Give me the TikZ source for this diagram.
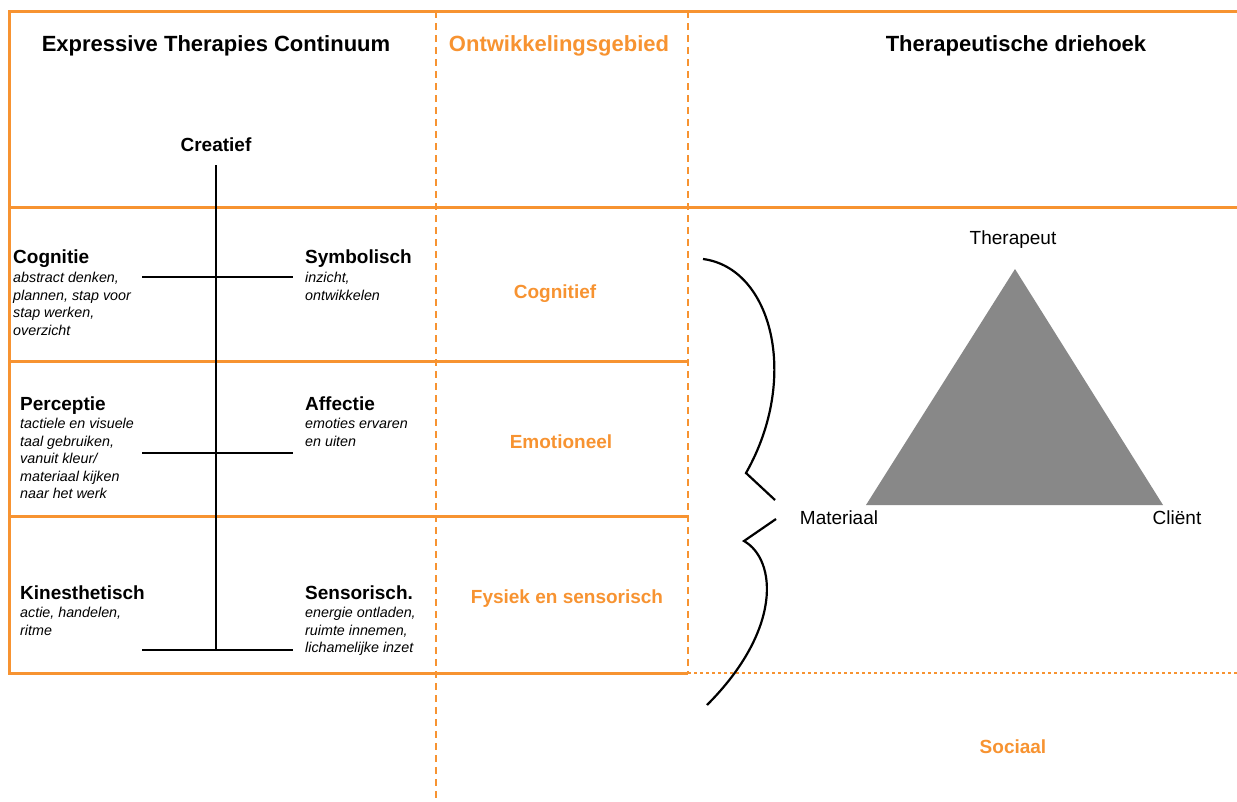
\documentclass[tikz,border=0pt]{standalone}
\usepackage{fontspec}
\setmainfont{Liberation Sans}
\definecolor{etcoranje}{RGB}{247,147,49}
\definecolor{driegrijs}{RGB}{136,136,136}

\begin{document}
\begin{tikzpicture}[x=1pt,y=-1pt,
   kop/.style={font=\bfseries\fontsize{22}{26}\selectfont, inner sep=0pt, anchor=base},
   naam/.style={font=\bfseries\fontsize{19}{22}\selectfont, inner sep=0pt, anchor=base west},
   uitleg/.style={font=\itshape\fontsize{14.3}{17.5}\selectfont, align=left, inner sep=0pt, anchor=north west},
   gebied/.style={font=\bfseries\fontsize{19}{22}\selectfont, text=etcoranje, inner sep=0pt, anchor=base},
   hoek/.style={font=\fontsize{19}{22}\selectfont, inner sep=0pt, anchor=base},
   rand/.style={etcoranje, line width=3pt},
   streep/.style={etcoranje, line width=2.2pt, dash pattern=on 7pt off 5pt},
   stip/.style={etcoranje, line width=2.2pt, dash pattern=on 3pt off 3pt},
   as/.style={black, line width=2.2pt}]
\useasboundingbox (0,0) rectangle (1237,801);
%
% kader
\draw[rand] (1237,11) -- (9,11) -- (9,673) -- (688,673);
\draw[rand] (9,207) -- (1237,207);
\draw[rand] (9,361) -- (688,361);
\draw[rand] (9,516) -- (688,516);
\draw[streep] (436,11) -- (436,801);
\draw[streep] (688,11) -- (688,673);
\draw[stip] (688,673) -- (1237,673);
%
       \node [kop] at (216,51) (etc titel) {Expressive Therapies Continuum};
         \node [kop, text=etcoranje] at (559,51) (gebied titel) {Ontwikkelingsgebied};
           \node [kop] at (1016,51) (driehoek titel) {Therapeutische driehoek};
%
             \node [naam, anchor=base] at (216,151) (creatief) {Creatief};
%
\node [naam] at (13,263) (cognitie) {Cognitie};
  \node [uitleg] at (13,272) (cognitie uitleg) {abstract denken,\\plannen, stap voor\\stap werken,\\overzicht};
\node [naam] at (305,263) (symbolisch) {Symbolisch};
  \node [uitleg] at (305,272) (symbolisch uitleg) {inzicht,\\ontwikkelen};
\node [naam] at (20,410) (perceptie) {Perceptie};
  \node [uitleg] at (20,418) (perceptie uitleg) {tactiele en visuele\\taal gebruiken,\\vanuit kleur/\\materiaal kijken\\naar het werk};
\node [naam] at (305,410) (affectie) {Affectie};
  \node [uitleg] at (305,418) (affectie uitleg) {emoties ervaren\\en uiten};
\node [naam] at (20,599) (kinesthetisch) {Kinesthetisch};
  \node [uitleg] at (20,607) (kinesthetisch uitleg) {actie, handelen,\\ritme};
\node [naam] at (305,599) (sensorisch) {Sensorisch.};
  \node [uitleg] at (305,607) (sensorisch uitleg) {energie ontladen,\\ruimte innemen,\\lichamelijke inzet};
%
\node [gebied] at (555,298) (cognitief) {Cognitief};
\node [gebied] at (561,448) (emotioneel) {Emotioneel};
\node [gebied] at (567,603) (fysiek) {Fysiek en sensorisch};
\node [gebied] at (1013,753) (sociaal) {Sociaal};
%
% continuum
\coordinate (as boven) at (216,165);
\coordinate (as onder) at (216,651);
\draw[as] (as boven) -- (as onder);
\foreach \y in {277,453,650}
   \draw[as] (142,\y) -- (293,\y);
%
% driehoek
\coordinate (top) at (1015,269);
\coordinate (links) at (866,505);
\coordinate (rechts) at (1163,505);
\fill[driegrijs] (top) -- (links) -- (rechts) -- cycle;
   \node [hoek] at (1013,244) (therapeut) {Therapeut};
   \node [hoek] at (839,524) (materiaal) {Materiaal};
   \node [hoek] at (1177,524) (client) {Cliënt};
%
% accolade
\draw[as] (703,259) .. controls (772,268) and (800,378) .. (746,473) -- (775,500);
\draw[as] (776,519) -- (744,541) .. controls (777,560) and (782,630) .. (707,705);

\end{tikzpicture}
\end{document}
